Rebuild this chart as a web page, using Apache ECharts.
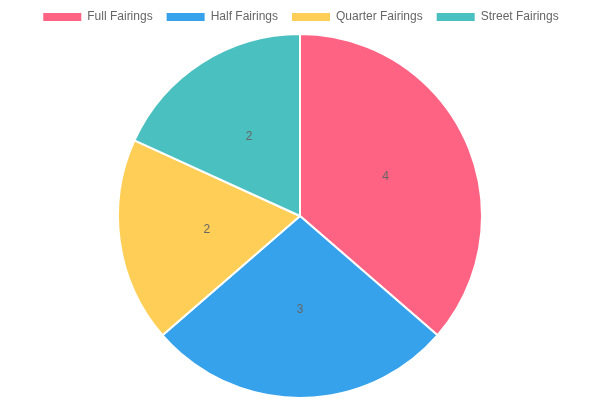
<!DOCTYPE html>
<html>
<head>
<meta charset="utf-8">
<script src="https://cdn.jsdelivr.net/npm/echarts@6/dist/echarts.min.js"></script>
<style>
  html, body { margin: 0; padding: 0; background: #fff; }
  #chart { width: 600px; height: 400px; }
</style>
</head>
<body>
<div id="chart"></div>
<script>
const categories = ["Full Fairings", "Half Fairings", "Quarter Fairings", "Street Fairings"];
const values = [4, 3, 2, 2];
const colors = ["#ff6384", "#36a2eb", "#ffce56", "#4bc0c0"];

let myChart = echarts.init(document.getElementById("chart"));
let data = [];
for (let i = 0; i < categories.length; i++) {
  data.push({ name: categories[i], value: values[i] });
}
let option = {
  color: colors,
  legend: {
    top: 6,
    left: "center",
    itemWidth: 40,
    itemHeight: 10,
    itemGap: 12,
    icon: "rect",
    textStyle: {
      color: "#666",
      fontSize: 12,
      fontFamily: "Liberation Sans, Arial, sans-serif"
    },
    data: categories
  },
  series: [
    {
      type: "pie",
      center: [300, 216],
      radius: 182,
      startAngle: 90,
      clockwise: true,
      animation: false,
      itemStyle: {
        borderColor: "#fff",
        borderWidth: 2
      },
      label: {
        show: true,
        position: "inside",
        formatter: "{c}",
        color: "#666",
        fontSize: 12,
        fontFamily: "Liberation Sans, Arial, sans-serif"
      },
      labelLine: { show: false },
      emphasis: { scale: false },
      data: data
    }
  ]
};
myChart.setOption(option, true);
</script>
</body>
</html>
